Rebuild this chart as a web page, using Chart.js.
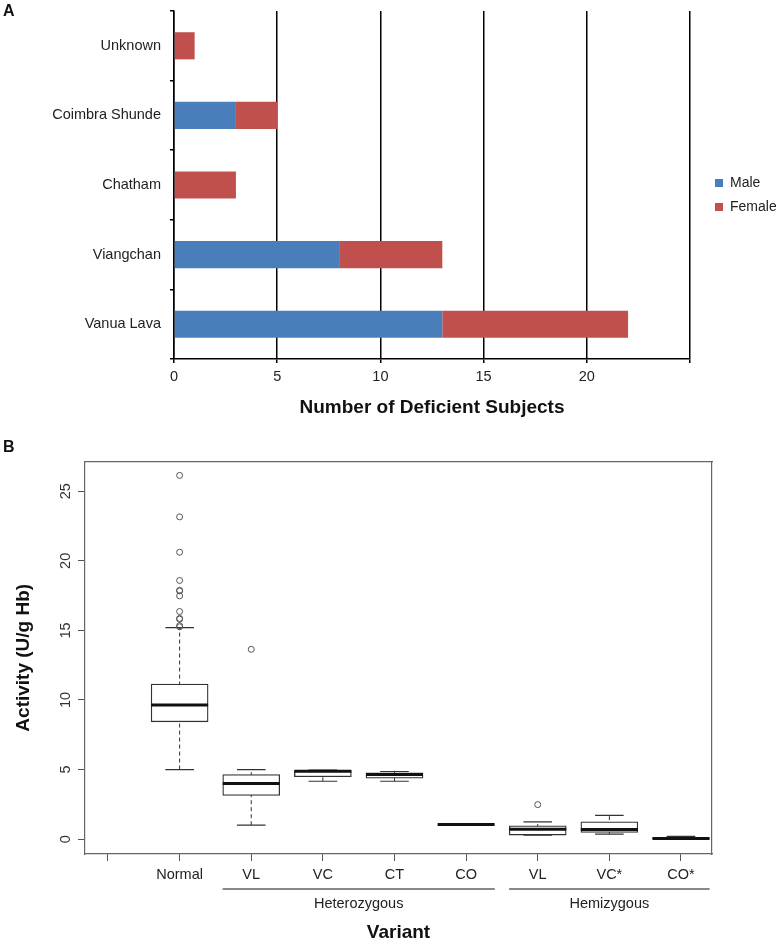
<!DOCTYPE html>
<html>
<head>
<meta charset="utf-8">
<title>Deficient subjects and activity by variant</title>
<script src="https://cdn.jsdelivr.net/npm/chart.js@4.4.1/dist/chart.umd.min.js"></script>
<style>
  html, body { margin: 0; padding: 0; background: #fff; }
  body { width: 776px; height: 944px; position: relative; overflow: hidden;
         font-family: "Liberation Sans", Arial, sans-serif; }
  .letter { position: absolute; left: 3px; font-weight: bold; font-size: 16px; line-height: 16px; color: #111; }
  #wrapA { position: absolute; left: 0; top: 0; width: 776px; height: 430px; }
  #wrapB { position: absolute; left: 0; top: 430px; width: 776px; height: 514px; }
</style>
</head>
<body>
<div id="wrapA"><canvas id="deficientChart" width="776" height="430"></canvas></div>
<div id="wrapB"><canvas id="activityChart" width="776" height="514"></canvas></div>
<div class="letter" style="top:3px">A</div>
<div class="letter" style="top:439px">B</div>
<script>
const FONT = '"Liberation Sans", Arial, sans-serif';

// Panel A - number of deficient subjects
const variants = ['Unknown', 'Coimbra Shunde', 'Chatham', 'Viangchan', 'Vanua Lava'];
const maleCounts = [0, 3, 0, 8, 13];
const femaleCounts = [1, 2, 3, 5, 9];
const countTicks = [0, 5, 10, 15, 20, 25];
const countTickLabels = ['0', '5', '10', '15', '20', ''];

// Panel B - activity box plots
const xTickPositions = [1, 2, 3, 4, 5, 6, 7, 8, 9];
const xTickLabels = ['', 'Normal', 'VL', 'VC', 'CT', 'CO', 'VL', 'VC*', 'CO*'];
const boxPositions = [2, 3, 4, 5, 6, 7, 8, 9];
const whiskerLow  = [5.0, 1.0, 4.16, 4.16, 1.05, 0.29, 0.36, 0.0];
const quartile1   = [8.43, 3.14, 4.48, 4.38, 1.05, 0.29, 0.48, 0.0];
const medians     = [9.64, 4.0, 4.88, 4.64, 1.05, 0.71, 0.69, 0.04];
const quartile3   = [11.14, 4.64, 4.93, 4.76, 1.05, 0.95, 1.24, 0.07];
const whiskerHigh = [15.2, 5.0, 4.96, 4.86, 1.05, 1.24, 1.71, 0.19];
const outliersNormal = [26.14, 23.16, 20.62, 18.59, 17.88, 17.84, 17.48, 16.36, 15.86, 15.81, 15.34, 15.26];
const outliersHetVL = [13.64];
const outliersHemVL = [2.48];
const activityTicks = [0, 5, 10, 15, 20, 25];
const groupNames = ['Heterozygous', 'Hemizygous'];
const groupFirst = [3, 7];
const groupLast = [6, 9];

// ---------- Chart A ----------
const ctxA = document.getElementById('deficientChart').getContext('2d');
const deficientChart = new Chart(ctxA, {
  type: 'bar',
  data: {
    labels: variants,
    datasets: [
      { label: 'Male', data: maleCounts, backgroundColor: '#4a7ebb', borderWidth: 0,
        barPercentage: 0.39, categoryPercentage: 1 },
      { label: 'Female', data: femaleCounts, backgroundColor: '#c0504d', borderWidth: 0,
        barPercentage: 0.39, categoryPercentage: 1 }
    ]
  },
  options: {
    indexAxis: 'y',
    responsive: false,
    animation: false,
    events: [],
    layout: { padding: { top: 11, left: 0, right: 0, bottom: 0 } },
    plugins: {
      tooltip: { enabled: false },
      legend: {
        position: 'right',
        fullSize: false,
        maxWidth: 71,
        title: { display: true, text: '', padding: 4, font: { size: 10 } },
        labels: { boxWidth: 8, boxHeight: 8, padding: 10, color: '#222',
                  font: { family: FONT, size: 14 } }
      }
    },
    scales: {
      x: {
        stacked: true,
        min: 0, max: 25,
        afterBuildTicks: s => { s.ticks = countTicks.map(v => ({ value: v })); },
        afterFit: s => { s.height = 71; },
        ticks: { color: '#222', padding: 5, font: { family: FONT, size: 14.5 },
                 callback: (v, i) => countTickLabels[i] },
        grid: { color: '#000', lineWidth: 1.5, tickLength: 4 },
        border: { color: '#000', width: 1.5 },
        title: { display: true, text: 'Number of Deficient Subjects', color: '#111',
                 font: { family: FONT, size: 19, weight: 'bold' }, padding: { top: 0, bottom: 10.6 } }
      },
      y: {
        stacked: true,
        afterFit: s => { s.width = 174; s.paddingTop = 0; s.paddingBottom = 0; },
        ticks: { color: '#222', padding: 9, font: { family: FONT, size: 14.5 } },
        grid: { offset: true, drawOnChartArea: false, color: '#000', lineWidth: 1.5, tickLength: 4 },
        border: { color: '#000', width: 1.5 }
      },
      gap: {
        type: 'linear', position: 'right', display: true,
        ticks: { display: false }, grid: { display: false }, border: { display: false },
        afterFit: s => { s.width = 15; s.paddingTop = 0; s.paddingBottom = 0; }
      }
    }
  }
});

// ---------- Chart B ----------
const boxData = boxPositions.map((p, i) => ({ x: p, y: [quartile1[i], quartile3[i]] }));
const medianData = boxPositions.map((p, i) => ({ x: p, y: medians[i] }));
const capData = boxPositions.flatMap((p, i) => [{ x: p, y: whiskerLow[i] }, { x: p, y: whiskerHigh[i] }]);
const whiskerData = boxPositions.flatMap((p, i) => [
  { x: p, y: whiskerLow[i] }, { x: p, y: whiskerHigh[i] }, { x: p, y: null }
]);
const outlierData = [
  ...outliersNormal.map(v => ({ x: 2, y: v })),
  ...outliersHetVL.map(v => ({ x: 3, y: v })),
  ...outliersHemVL.map(v => ({ x: 7, y: v }))
];

const rotatedYLabels = {
  id: 'rotatedYLabels',
  afterDraw(chart) {
    const { ctx, chartArea } = chart;
    const yScale = chart.scales.y;
    ctx.save();
    ctx.font = '14.5px ' + FONT;
    ctx.fillStyle = '#333';
    ctx.textAlign = 'center';
    ctx.textBaseline = 'middle';
    yScale.ticks.forEach(t => {
      ctx.save();
      ctx.translate(chartArea.left - 19, yScale.getPixelForValue(t.value));
      ctx.rotate(-Math.PI / 2);
      ctx.fillText(String(t.value), 0, 0);
      ctx.restore();
    });
    ctx.restore();
  }
};

const groupBrackets = {
  id: 'groupBrackets',
  afterDraw(chart) {
    const { ctx, chartArea } = chart;
    const xScale = chart.scales.x;
    const y = chartArea.bottom + 35;
    ctx.save();
    groupNames.forEach((name, i) => {
      const x1 = xScale.getPixelForValue(groupFirst[i] - 0.4);
      const x2 = xScale.getPixelForValue(groupLast[i] + 0.4);
      ctx.strokeStyle = '#888';
      ctx.lineWidth = 2;
      ctx.beginPath();
      ctx.moveTo(x1, y);
      ctx.lineTo(x2, y);
      ctx.stroke();
      ctx.fillStyle = '#222';
      ctx.font = '14.5px ' + FONT;
      ctx.textAlign = 'center';
      ctx.textBaseline = 'middle';
      const mid = (xScale.getPixelForValue(groupFirst[i]) + xScale.getPixelForValue(groupLast[i])) / 2;
      ctx.fillText(name, mid, y + 15);
    });
    ctx.restore();
  }
};

const ctxB = document.getElementById('activityChart').getContext('2d');
const activityChart = new Chart(ctxB, {
  type: 'bar',
  data: {
    datasets: [
      { type: 'line', data: medianData, showLine: false, pointStyle: 'line', pointRadius: 28.5,
        pointBorderWidth: 3, pointBorderColor: '#111', order: 0 },
      { type: 'line', data: outlierData, showLine: false, pointStyle: 'circle', pointRadius: 3,
        pointBorderWidth: 1, pointBorderColor: '#555', pointBackgroundColor: 'rgba(0,0,0,0)', order: 1 },
      { type: 'line', data: capData, showLine: false, pointStyle: 'line', pointRadius: 14.3,
        pointBorderWidth: 1.2, pointBorderColor: '#333', order: 2 },
      { type: 'bar', data: boxData, backgroundColor: '#fff', borderColor: '#333', borderWidth: 1.3,
        borderSkipped: false, barThickness: 57, grouped: false, order: 3 },
      { type: 'line', data: whiskerData, showLine: true, spanGaps: false, pointRadius: 0,
        borderColor: '#333', borderWidth: 1, borderDash: [4, 3], order: 4 }
    ]
  },
  options: {
    responsive: false,
    animation: false,
    events: [],
    layout: { padding: { top: 29, left: 0, right: 64, bottom: 0 } },
    plugins: { legend: { display: false }, tooltip: { enabled: false } },
    scales: {
      x: {
        type: 'linear', min: 0.679, max: 9.433, offset: false,
        afterBuildTicks: s => { s.ticks = xTickPositions.map(v => ({ value: v })); },
        afterFit: s => { s.height = 90; },
        ticks: { color: '#222', padding: 5, autoSkip: false, maxRotation: 0,
                 font: { family: FONT, size: 14.5 }, callback: (v, i) => xTickLabels[i] },
        grid: { offset: false, drawOnChartArea: false, color: '#555', tickLength: 7 },
        border: { color: '#666', width: 1.2 },
        title: { display: true, text: 'Variant', color: '#111',
                 font: { family: FONT, size: 19, weight: 'bold' }, padding: { top: 0, bottom: 0 } }
      },
      y: {
        type: 'linear', min: -1.07, max: 27.14,
        afterBuildTicks: s => { s.ticks = activityTicks.map(v => ({ value: v })); },
        afterFit: s => { s.width = 85; },
        ticks: { display: false },
        grid: { drawOnChartArea: false, color: '#555', tickLength: 7 },
        border: { color: '#666', width: 1.2 },
        title: { display: true, text: 'Activity (U/g Hb)', color: '#111',
                 font: { family: FONT, size: 19, weight: 'bold' }, padding: { top: 12.6, bottom: 0 } }
      },
      x2: {
        type: 'linear', position: 'top', display: true,
        ticks: { display: false }, grid: { display: false },
        border: { color: '#666', width: 1.2 },
        afterFit: s => { s.height = 0; }
      },
      y2: {
        type: 'linear', position: 'right', display: true,
        ticks: { display: false }, grid: { display: false },
        border: { color: '#666', width: 1.2 },
        afterFit: s => { s.width = 0; }
      }
    }
  },
  plugins: [rotatedYLabels, groupBrackets]
});
</script>
</body>
</html>
